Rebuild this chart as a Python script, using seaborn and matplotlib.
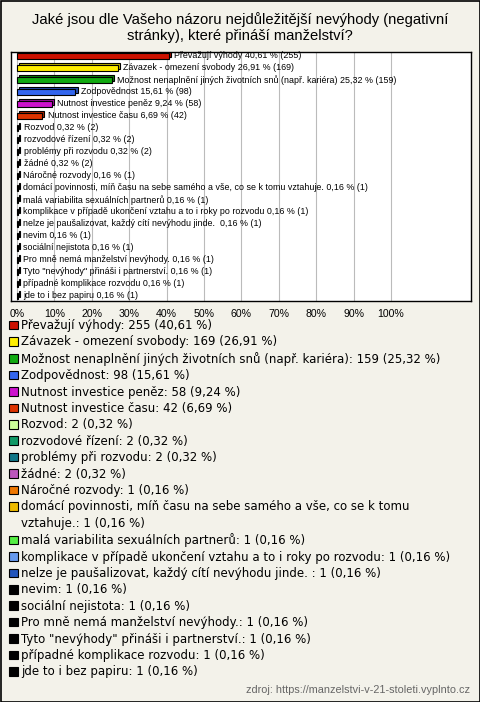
import matplotlib
matplotlib.use("Agg")
import matplotlib.pyplot as plt
import matplotlib.patheffects as pe
from matplotlib.patches import Patch, Rectangle
import matplotlib.colors as mcolors
import seaborn as sns
import pandas as pd

categories = [
    "Převažují výhody",
    "Závazek - omezení svobody",
    "Možnost nenaplnění jiných životních snů (např. kariéra)",
    "Zodpovědnost",
    "Nutnost investice peněz",
    "Nutnost investice času",
    "Rozvod",
    "rozvodové řízení",
    "problémy při rozvodu",
    "žádné",
    "Náročné rozvody",
    "domácí povinnosti, míň času na sebe samého a vše, co se k tomu vztahuje.",
    "malá variabilita sexuálních partnerů",
    "komplikace v případě ukončení vztahu a to i roky po rozvodu",
    "nelze je paušalizovat, každý cítí nevýhodu jinde. ",
    "nevim",
    "sociální nejistota",
    "Pro mně nemá manželství nevýhody.",
    "Tyto \"nevýhody\" přináši i partnerství.",
    "případné komplikace rozvodu",
    "jde to i bez papiru",
]
counts = [255, 169, 159, 98, 58, 42, 2, 2, 2, 2, 1, 1, 1, 1, 1, 1, 1, 1, 1, 1, 1]
percents = [40.61, 26.91, 25.32, 15.61, 9.24, 6.69, 0.32, 0.32, 0.32, 0.32,
            0.16, 0.16, 0.16, 0.16, 0.16, 0.16, 0.16, 0.16, 0.16, 0.16, 0.16]
colors = ["#cc1100", "#ffee00", "#11aa11", "#3366ee", "#cc11cc", "#dd3300",
          "#ccff99", "#119966", "#117788", "#bb55bb", "#ee7700", "#eebb00",
          "#55ee44", "#6699ee", "#2255bb", "#000000", "#000000", "#000000",
          "#000000", "#000000", "#000000"]
tick_values = list(range(0, 101, 10))
tick_labels = [f"{v}%" for v in tick_values]
title = "Jaké jsou dle Vašeho názoru nejdůležitější nevýhody (negativní\nstránky), které přináší manželství?"
source = "zdroj: https://manzelstvi-v-21-stoleti.vyplnto.cz"
wrap_after = "co se k tomu "   # legend line break for the long item

def fmt(p):
    return f"{p:.2f}".replace(".", ",")

bg = "#f3f2ea"
df = pd.DataFrame({"cat": categories, "pct": percents, "n": counts})

fig = plt.figure(figsize=(4.8, 7.02), dpi=100, facecolor=bg)
ax = fig.add_axes([11/480, 1 - 301/702, 460/480, 249/702])
ax.set_facecolor("white")

sns.barplot(data=df, y="cat", x="pct", hue="cat", palette=colors, legend=False,
            orient="h", width=0.5, edgecolor="black", linewidth=0.8, ax=ax,
            saturation=1)

for patch, c in zip(ax.patches, colors):
    dark = tuple(max(0, v * 0.75) for v in mcolors.to_rgb(c))
    patch.set_path_effects([
        pe.PathPatchEffect(offset=(1.6, 1.6), facecolor=dark, edgecolor="black", lw=0.8),
        pe.Normal(),
    ])

for i, (cat, p, n) in enumerate(zip(categories, percents, counts)):
    ax.annotate(f"{cat} {fmt(p)} % ({n})", xy=(p, i), xytext=(4, 0),
                textcoords="offset points", va="center", ha="left",
                fontsize=6.4, family="Liberation Sans", color="black")

ax.set_xlim(-1.6, 121.4)
ax.set_ylim(20.42, -0.33)
ax.set_xticks(tick_values)
ax.set_xticklabels(tick_labels, fontsize=7.6, family="Liberation Sans")
ax.tick_params(axis="x", length=0, pad=6)
ax.set_yticks([])
ax.set_xlabel("")
ax.set_ylabel("")
ax.set_axisbelow(True)
ax.grid(axis="x", color="#bbbbbb", linewidth=0.8)
ax.grid(axis="y", visible=False)
for s in ax.spines.values():
    s.set_visible(True)
    s.set_color("black")
    s.set_linewidth(1.0)

fig.text(0.5, 1 - 27.5/702, title, ha="center", va="center", fontsize=10.6,
         family="Liberation Sans", linespacing=1.12)

handles, labels = [], []
for cat, p, n, c in zip(categories, percents, counts, colors):
    text = f"{cat}: {n} ({fmt(p)} %)"
    h = Patch(facecolor=c, edgecolor="black", linewidth=0.8)
    if wrap_after in text:
        first, rest = text.split(wrap_after, 1)
        handles += [h, Patch(facecolor="none", edgecolor="none")]
        labels += [first + wrap_after.rstrip(), rest]
    else:
        handles.append(h)
        labels.append(text)

fig.legend(handles, labels, loc="upper left", bbox_to_anchor=(9/480, 1 - 319/702),
           frameon=False, handlelength=0.75, handleheight=0.75,
           handletextpad=0.25, labelspacing=0.29, borderaxespad=0, borderpad=0,
           prop={"family": "DejaVu Sans", "size": 8.45})

fig.text(470/480, 1 - 690/702, source, ha="right", va="center", fontsize=7.8,
         family="Liberation Sans", color="#666666")

fig.add_artist(Rectangle((0.5/480, 0.5/702), 479/480, 701/702, transform=fig.transFigure,
                         fill=False, edgecolor="black", linewidth=1.2))

fig.savefig("out.png", dpi=100, facecolor=bg)
